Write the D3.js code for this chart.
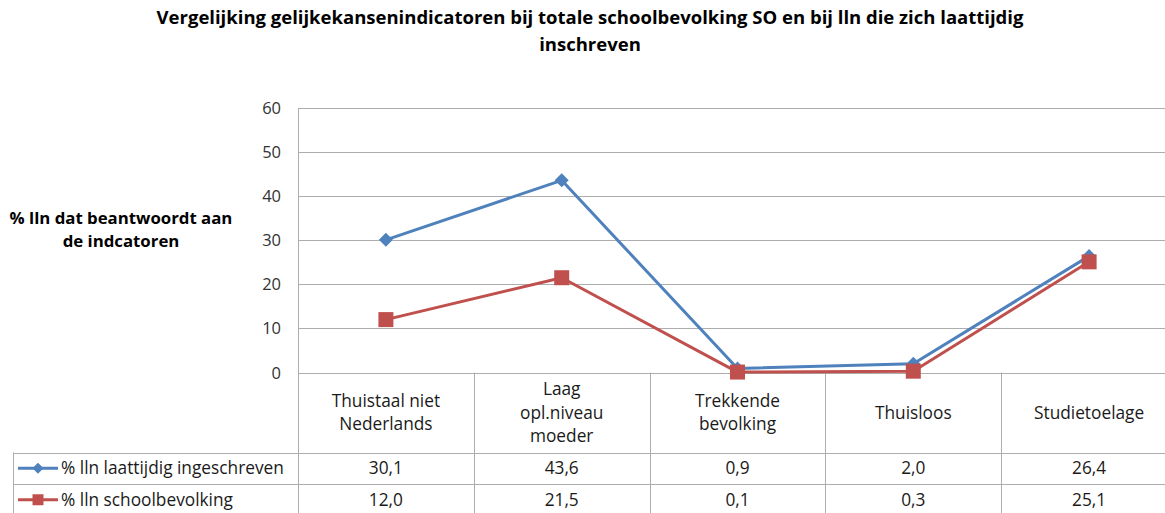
<!DOCTYPE html>
<html>
<head>
<meta charset="utf-8">
<script src="https://cdn.jsdelivr.net/npm/d3@7"></script>
<style>
  body { margin: 0; background: #fff; }
  svg { display: block; font-family: "Open Sans", Lato, sans-serif; }
</style>
</head>
<body>
<div id="chart"></div>
<script>
const categories = [
    ["Thuistaal niet", "Nederlands"],
    ["Laag", "opl.niveau", "moeder"],
    ["Trekkende", "bevolking"],
    ["Thuisloos"],
    ["Studietoelage"]
];
const seriesNames = ["% lln laattijdig ingeschreven", "% lln schoolbevolking"];
const laattijdig = [30.1, 43.6, 0.9, 2.0, 26.4];
const schoolbevolking = [12.0, 21.5, 0.1, 0.3, 25.1];
const yTicks = [0, 10, 20, 30, 40, 50, 60];
const colors = ["#4F81BD", "#C0504D"];

const W = 1165, H = 513;
const plotLeft = 298, plotRight = 1177, plotTop = 108, zeroY = 372.5;
const headerBottom = 452.5, rowH = 31.5, tableLeft = 13;
const gridCol = "#ADADAD";
const textCol = "#1a1a1a";
const bodySize = 17.3;

const svg = d3.select("#chart").append("svg")
    .attr("width", W)
    .attr("height", H);

const x = d3.scaleBand()
    .domain(d3.range(categories.length))
    .range([plotLeft, plotRight])
    .padding(0);

const y = d3.scaleLinear()
    .domain([0, 60])
    .range([zeroY, plotTop]);

// diamond like the excel marker (square turned 45deg)
const diamond = r => `M0,${-r}L${r},0L0,${r}L${-r},0Z`;

// title
svg.append("text")
    .attr("text-anchor", "middle")
    .attr("font-weight", "bold")
    .attr("font-size", 18.5)
    .attr("fill", "#000")
    .selectAll("tspan")
    .data(["Vergelijking gelijkekansenindicatoren bij totale schoolbevolking SO en bij lln die zich laattijdig", "inschreven"])
    .enter()
    .append("tspan")
    .attr("x", 590)
    .attr("y", (d, i) => 24 + i * 27)
    .text(d => d);

// y axis title
svg.append("text")
    .attr("text-anchor", "middle")
    .attr("font-weight", "bold")
    .attr("font-size", 16.8)
    .attr("fill", "#000")
    .selectAll("tspan")
    .data(["% lln dat beantwoordt aan", "de indcatoren"])
    .enter()
    .append("tspan")
    .attr("x", 121)
    .attr("y", (d, i) => 224 + i * 23)
    .text(d => d);

// gridlines
svg.append("g")
    .selectAll("line")
    .data(yTicks)
    .enter()
    .append("line")
    .attr("x1", plotLeft)
    .attr("x2", plotRight)
    .attr("y1", d => Math.round(y(d)) + 0.5)
    .attr("y2", d => Math.round(y(d)) + 0.5)
    .attr("stroke", gridCol)
    .attr("stroke-width", 1);

// y tick labels
svg.append("g")
    .selectAll("text")
    .data(yTicks)
    .enter()
    .append("text")
    .attr("x", 281)
    .attr("y", d => y(d) + 6)
    .attr("text-anchor", "end")
    .attr("font-size", 16.5)
    .attr("fill", "#333")
    .text(d => d);

// left axis line
svg.append("line")
    .attr("x1", plotLeft + 0.5).attr("x2", plotLeft + 0.5)
    .attr("y1", plotTop).attr("y2", headerBottom + 2 * rowH)
    .attr("stroke", gridCol);

// table horizontal lines
[headerBottom, headerBottom + rowH].forEach(yy => {
    svg.append("line")
        .attr("x1", tableLeft).attr("x2", plotRight)
        .attr("y1", Math.round(yy) + 0.5).attr("y2", Math.round(yy) + 0.5)
        .attr("stroke", gridCol);
});
svg.append("line")
    .attr("x1", tableLeft + 0.5).attr("x2", tableLeft + 0.5)
    .attr("y1", headerBottom).attr("y2", H)
    .attr("stroke", gridCol);

// column separators
svg.append("g")
    .selectAll("line")
    .data(d3.range(1, categories.length + 1))
    .enter()
    .append("line")
    .attr("x1", d => Math.round(x(d - 1) + x.bandwidth()) + 0.5)
    .attr("x2", d => Math.round(x(d - 1) + x.bandwidth()) + 0.5)
    .attr("y1", zeroY)
    .attr("y2", H)
    .attr("stroke", gridCol);

// category labels
const cx = i => x(i) + x.bandwidth() / 2;
svg.append("g")
    .selectAll("text")
    .data(categories)
    .enter()
    .append("text")
    .attr("text-anchor", "middle")
    .attr("font-size", bodySize)
    .attr("fill", textCol)
    .each(function (lines, i) {
        const lh = 23.5;
        const mid = (zeroY + headerBottom) / 2 + 6;
        d3.select(this).selectAll("tspan")
            .data(lines)
            .enter()
            .append("tspan")
            .attr("x", cx(i))
            .attr("y", (d, j) => mid + (j - (lines.length - 1) / 2) * lh)
            .text(d => d);
    });

// data rows
const fmt = v => v.toFixed(1).replace(".", ",");
[laattijdig, schoolbevolking].forEach((vals, r) => {
    const rowMid = headerBottom + rowH * r + rowH / 2 + 6;
    svg.append("g")
        .selectAll("text")
        .data(vals)
        .enter()
        .append("text")
        .attr("x", (d, i) => cx(i))
        .attr("y", rowMid)
        .attr("text-anchor", "middle")
        .attr("font-size", bodySize)
        .attr("fill", textCol)
        .text(d => fmt(d));

    svg.append("text")
        .attr("x", 61)
        .attr("y", rowMid)
        .attr("font-size", bodySize)
        .attr("fill", textCol)
        .text(seriesNames[r]);

    // legend key
    const ky = rowMid - 6;
    svg.append("line")
        .attr("x1", 18).attr("x2", 58)
        .attr("y1", ky).attr("y2", ky)
        .attr("stroke", colors[r])
        .attr("stroke-width", 3);
    svg.append("path")
        .attr("transform", `translate(38,${ky})`)
        .attr("d", r === 0 ? diamond(5.5) : "M-5.5,-5.5h11v11h-11Z")
        .attr("fill", colors[r]);
});

// series lines and markers
const line = d3.line()
    .x((d, i) => cx(i))
    .y(d => y(d));

[laattijdig, schoolbevolking].forEach((vals, r) => {
    svg.append("path")
        .datum(vals)
        .attr("d", line)
        .attr("fill", "none")
        .attr("stroke", colors[r])
        .attr("stroke-width", 3)
        .attr("stroke-linejoin", "round");
});

svg.append("g")
    .selectAll("path")
    .data(laattijdig)
    .enter()
    .append("path")
    .attr("transform", (d, i) => `translate(${cx(i)},${y(d)})`)
    .attr("d", diamond(7))
    .attr("fill", colors[0]);

svg.append("g")
    .selectAll("rect")
    .data(schoolbevolking)
    .enter()
    .append("rect")
    .attr("x", (d, i) => cx(i) - 7.5)
    .attr("y", d => y(d) - 7.5)
    .attr("width", 15)
    .attr("height", 15)
    .attr("fill", colors[1]);
</script>
</body>
</html>
